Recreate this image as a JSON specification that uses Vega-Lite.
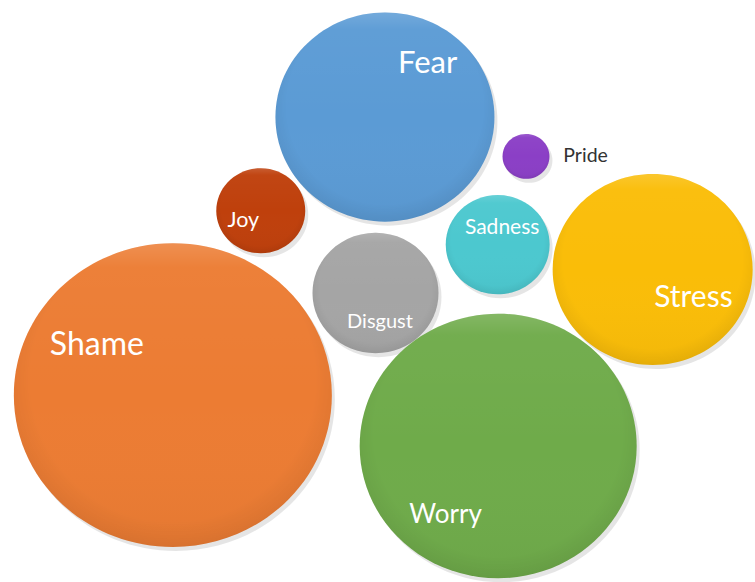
{
  "$schema": "https://vega.github.io/schema/vega-lite/v6.json",
  "width": 755,
  "height": 582,
  "autosize": {"type": "fit", "contains": "padding"},
  "padding": 0,
  "background": "white",
  "config": {"view": {"stroke": null}},
  "data": {
    "values": [
      {"emotion": "Fear", "x": 387.5, "y": 117.5, "value": 119.9, "lx": 430.5, "ly": 73},
      {"emotion": "Pride", "x": 529.5, "y": 157, "value": 5.5, "lx": 589.5, "ly": 162.5},
      {"emotion": "Joy", "x": 262.5, "y": 211.5, "value": 19.8, "lx": 245, "ly": 228},
      {"emotion": "Sadness", "x": 501, "y": 245.5, "value": 27.0, "lx": 505.5, "ly": 235},
      {"emotion": "Stress", "x": 657, "y": 270.5, "value": 100, "lx": 698, "ly": 308},
      {"emotion": "Disgust", "x": 378, "y": 294, "value": 39.7, "lx": 382.5, "ly": 329},
      {"emotion": "Shame", "x": 174, "y": 396.5, "value": 252.8, "lx": 97.5, "ly": 356},
      {"emotion": "Worry", "x": 501.5, "y": 447.5, "value": 191.8, "lx": 448.5, "ly": 525}
    ]
  },
  "encoding": {
    "x": {"field": "x", "type": "quantitative", "scale": {"domain": [0, 755], "nice": false, "zero": false}, "axis": null},
    "y": {"field": "y", "type": "quantitative", "scale": {"domain": [0, 582], "nice": false, "zero": false, "reverse": true}, "axis": null}
  },
  "layer": [
    {
      "mark": {"type": "point", "filled": true, "shape": "M-1,0A1,0.955,0,1,0,1,0A1,0.955,0,1,0,-1,0Z", "fill": "#000000", "opacity": 0.1, "xOffset": 3, "yOffset": 4, "strokeWidth": 0},
      "encoding": {
        "size": {"field": "value", "type": "quantitative", "scale": {"domain": [0, 300], "range": [0, 120000]}, "legend": null}
      }
    },
    {
      "mark": {"type": "point", "filled": true, "shape": "M-1,0A1,0.955,0,1,0,1,0A1,0.955,0,1,0,-1,0Z", "opacity": 1, "strokeWidth": 0},
      "encoding": {
        "size": {"field": "value", "type": "quantitative", "scale": {"domain": [0, 300], "range": [0, 120000]}, "legend": null},
        "color": {"field": "emotion", "type": "nominal", "legend": null,
          "scale": {"domain": ["Fear", "Pride", "Joy", "Sadness", "Stress", "Disgust", "Shame", "Worry"],
                    "range": ["#5B9BD5", "#8B3FC6", "#BF400C", "#4CC8CF", "#FABD08", "#A5A5A5", "#EC7C33", "#6FAB4A"]}}
      }
    },
    {
      "mark": {"type": "point", "filled": true, "shape": "M-1,0A1,0.955,0,1,0,1,0A1,0.955,0,1,0,-1,0Z", "opacity": 1, "strokeWidth": 0,
        "fill": {"gradient": "radial", "x1": 0.5, "y1": 0.45, "r1": 0, "x2": 0.5, "y2": 0.45, "r2": 0.56,
          "stops": [
            {"offset": 0, "color": "rgba(255,255,255,0)"},
            {"offset": 0.8, "color": "rgba(0,0,0,0)"},
            {"offset": 0.93, "color": "rgba(0,0,0,0.05)"},
            {"offset": 1, "color": "rgba(0,0,0,0.12)"}
          ]}},
      "encoding": {
        "size": {"field": "value", "type": "quantitative", "scale": {"domain": [0, 300], "range": [0, 120000]}, "legend": null}
      }
    },
    {
      "mark": {"type": "point", "filled": true, "shape": "M-1,0A1,0.955,0,1,0,1,0A1,0.955,0,1,0,-1,0Z", "opacity": 1, "strokeWidth": 0,
        "fill": {"gradient": "linear", "x1": 0, "y1": 0, "x2": 0, "y2": 1,
          "stops": [
            {"offset": 0, "color": "rgba(255,255,255,0.15)"},
            {"offset": 0.08, "color": "rgba(255,255,255,0.03)"},
            {"offset": 0.5, "color": "rgba(255,255,255,0)"},
            {"offset": 1, "color": "rgba(0,0,0,0.03)"}
          ]}},
      "encoding": {
        "size": {"field": "value", "type": "quantitative", "scale": {"domain": [0, 300], "range": [0, 120000]}, "legend": null}
      }
    },
    {
      "mark": {"type": "text", "font": "Lato", "align": "center", "baseline": "alphabetic"},
      "encoding": {
        "x": {"field": "lx", "type": "quantitative"},
        "y": {"field": "ly", "type": "quantitative"},
        "text": {"field": "emotion", "type": "nominal"},
        "size": {"field": "emotion", "type": "nominal", "legend": null,
          "scale": {"type": "ordinal", "domain": ["Fear", "Pride", "Joy", "Sadness", "Stress", "Disgust", "Shame", "Worry"],
                    "range": [31, 19.5, 21.5, 21, 30, 20, 32, 26]}},
        "color": {"condition": {"test": "datum.emotion === 'Pride'", "value": "#333333"}, "value": "#ffffff"}
      }
    }
  ],
  "resolve": {"scale": {"size": "independent", "color": "independent"}}
}
